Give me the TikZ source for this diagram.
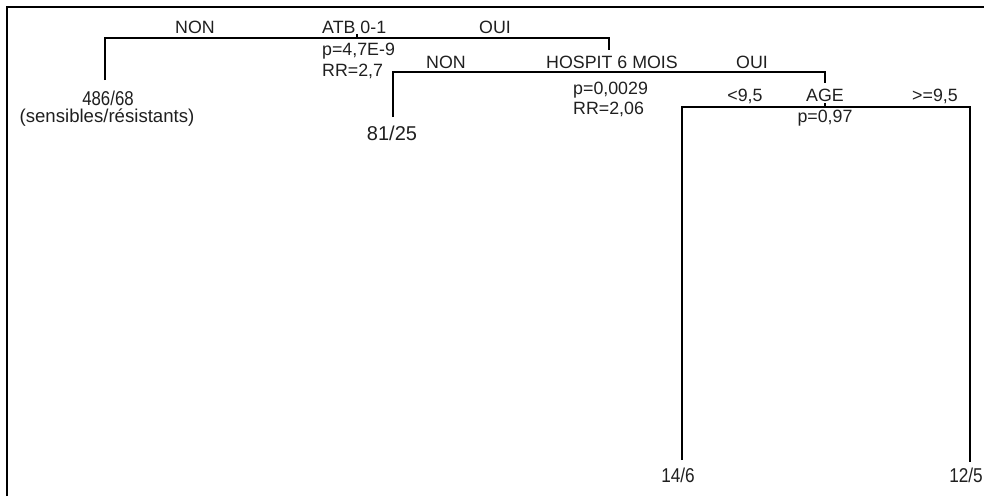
\documentclass[tikz,border=0pt]{standalone}
\usepackage{graphicx}
\usepackage{fontspec}
\setmainfont{Liberation Sans}
\begin{document}
\begin{tikzpicture}[x=1pt,y=-1pt,
  lbl/.style={inner sep=0pt,font=\fontsize{17.8}{20}\selectfont,text=black!88},
  leaf/.style={inner sep=0pt,font=\fontsize{20}{22}\selectfont,text=black!88},
  edge/.style={draw=black,line width=1.1pt},
  frame/.style={draw=black,line width=2.6pt}]
\useasboundingbox (0,0) rectangle (984,496);
% frame
\draw[frame] (7,496) -- (7,7) -- (984,7);
% junctions
\coordinate (atb) at (357,38);
\coordinate (l1) at (105,80);
\coordinate (r1) at (609,50);
\coordinate (hosp) at (609,72);
\coordinate (l2) at (393,117);
\coordinate (r2) at (825,83);
\coordinate (age) at (825,107);
\coordinate (l3) at (682,460);
\coordinate (r3) at (970,462);
% tree edges
\draw[edge] (l1) |- (atb) -| (r1);
\draw[edge] (atb) -- ++(0,-4);
\draw[edge] (l2) |- (hosp) -| (r2);
\draw[edge] (l3) |- (age) -| (r3);
\draw[edge] (age) -- ++(0,-4);
% level 1 labels
\node[lbl,anchor=base] (non1) at (195,33) {NON};
\node[lbl,anchor=base west] (atbt) at (322,33) {ATB 0-1};
\node[lbl,anchor=base] (oui1) at (495,33) {OUI};
\node[lbl,anchor=base west] (p1) at (322,55) {p=4,7E-9};
\node[lbl,anchor=base west] (rr1) at (322,76) {RR=2,7};
\node[leaf,anchor=base] (leaf1) at (108,105) {\scalebox{0.84}[1]{486/68}};
\node[lbl,anchor=base,font=\fontsize{18.6}{20}\selectfont] (leaf1b) at (107,122) {(sensibles/résistants)};
% level 2 labels
\node[lbl,anchor=base] (non2) at (446,68) {NON};
\node[lbl,anchor=base] (hospt) at (612,68) {HOSPIT 6 MOIS};
\node[lbl,anchor=base] (oui2) at (752,68) {OUI};
\node[lbl,anchor=base west] (p2) at (573,94) {p=0,0029};
\node[lbl,anchor=base west] (rr2) at (573,114) {RR=2,06};
\node[leaf,anchor=base] (leaf2) at (392,140) {81/25};
% level 3 labels
\node[lbl,anchor=base] (lt) at (745,101) {<9,5};
\node[lbl,anchor=base] (aget) at (825,101) {AGE};
\node[lbl,anchor=base] (ge) at (935,101) {>=9,5};
\node[lbl,anchor=base] (p3) at (825,122) {p=0,97};
\node[leaf,anchor=base] (leaf3) at (678,482) {\scalebox{0.86}[1]{14/6}};
\node[leaf,anchor=base] (leaf4) at (966,482) {\scalebox{0.86}[1]{12/5}};
\end{tikzpicture}
\end{document}
